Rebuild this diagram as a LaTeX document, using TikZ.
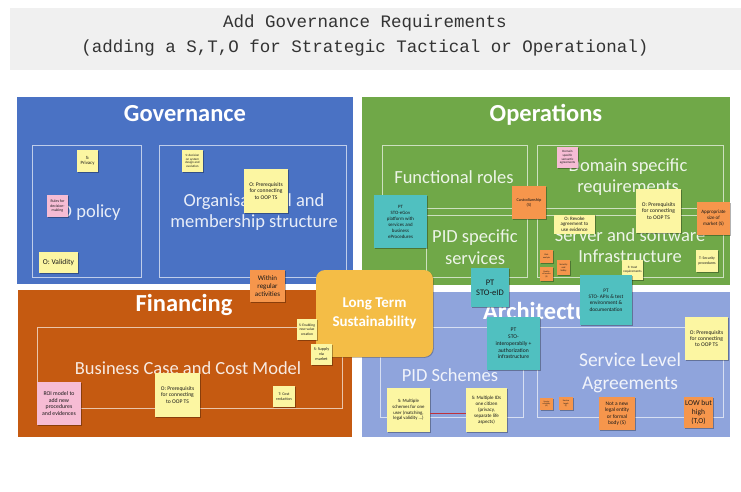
\documentclass[tikz,border=0pt]{standalone}
\usepackage{fontspec}
\setmainfont{Carlito}
\newfontfamily\monof{Liberation Mono}
\usetikzlibrary{shadows}
\definecolor{bandc}{RGB}{240,240,240}
\definecolor{govc}{RGB}{74,114,196}
\definecolor{opsc}{RGB}{112,168,72}
\definecolor{finc}{RGB}{197,90,17}
\definecolor{archc}{RGB}{143,164,220}
\definecolor{ltsc}{RGB}{244,189,70}
\definecolor{tealc}{RGB}{80,192,192}
\definecolor{yelc}{RGB}{252,246,162}
\definecolor{orgc}{RGB}{246,150,76}
\definecolor{pnkc}{RGB}{246,188,212}
\definecolor{redl}{RGB}{190,50,60}
\newcommand\fsz[2]{\fontsize{#1}{#2}\selectfont}
\begin{document}
\begin{tikzpicture}[x=1pt,y=-1pt,
  panel/.style={draw=none,inner sep=0pt,rectangle},
  inbox/.style={draw=white,draw opacity=0.65,line width=0.8pt,inner sep=0pt,rectangle},
  wh/.style 2 args={minimum width=#1,minimum height=#2},
  ptitle/.style={text=white,font=\bfseries\fsz{24.5}{28}},
  intext/.style={text=white,text opacity=0.88,align=center,font=\fsz{18.5}{21}},
  sticky/.style={inner sep=0.3pt,align=center,text=black!90,
     drop shadow={shadow xshift=0.6pt,shadow yshift=-0.6pt,opacity=0.3,fill=black}},
  sy/.style={sticky,fill=yelc},
  so/.style={sticky,fill=orgc},
  sp/.style={sticky,fill=pnkc},
  st/.style={sticky,fill=tealc},
  lts/.style={fill=ltsc,rounded corners=9pt,text=white,align=center,
     font=\bfseries\fsz{15}{18.5},
     drop shadow={shadow xshift=0.8pt,shadow yshift=-0.8pt,opacity=0.25,fill=black}}
]
\useasboundingbox (0,0) rectangle (741,492);
\fill[white] (0,0) rectangle (741,492);

% title band
\node[panel,fill=bandc,wh={731}{62}] (band) at (375.5,39) {};
\node[font=\monof\fsz{17.5}{20},text=black!80] (t1) at (365,23) {Add Governance Requirements};
\node[font=\monof\fsz{17.5}{20},text=black!80] (t2) at (365,48) {(adding a S,T,O for Strategic Tactical or Operational)};

% panels
\node[panel,fill=govc,wh={336}{187}] (gov) at (185,190.5) {};
\node[panel,fill=opsc,wh={368}{188}] (ops) at (546,191) {};
\node[panel,fill=finc,wh={334}{147}] (fin) at (185,363.5) {};
\node[panel,fill=archc,wh={368}{145}] (arch) at (546,364.5) {};

% inner boxes
\node[inbox,wh={109}{132}] (gb1) at (86.5,211) {};
\node[inbox,wh={187}{132}] (gb2) at (252.5,211) {};
\node[inbox,wh={145}{63}] (ob1) at (454.5,176.5) {};
\node[inbox,wh={101}{62}] (ob2) at (476.5,246) {};
\node[inbox,wh={186}{63}] (ob3) at (630,176.5) {};
\node[inbox,wh={186}{62}] (ob4) at (630,246) {};
\node[inbox,wh={305}{81}] (fb1) at (189.5,367.5) {};
\node[inbox,wh={143}{90}] (ab1) at (451.5,372) {};
\node[inbox,wh={186}{90}] (ab2) at (630,372) {};

% titles
\node[ptitle] (govt) at (185,114) {Governance};
\node[ptitle] (opst) at (546,115) {Operations};
\node[ptitle] (fint) at (184,305) {Financing};
\node[ptitle] (archt) at (546,311) {Architecture};

% inner texts
\node[intext,anchor=east] (pidpol) at (124,213) {PID policy};
\node[intext] (orgs) at (254,212) {Organisational and\\membership structure};
\node[intext] (funr) at (454,177) {Functional roles};
\node[intext] (doms) at (628,177) {Domain specific\\requirements};
\node[intext,font=\fsz{18.5}{22}] (pids) at (475,247) {PID specific\\services};
\node[intext] (serv) at (630,246) {Server and software\\Infrastructure};
\node[intext] (bcase) at (188,368) {Business Case and Cost Model};
\node[intext] (pidsch) at (450,375) {PID Schemes};
\node[intext,font=\fsz{19.5}{23}] (sla) at (630,373) {Service Level\\Agreements};

% long term sustainability
\node[lts,wh={117}{87}] (ltsn) at (374.5,313.5) {Long Term\\Sustainability};

% governance stickies
\node[sy,wh={21}{22},font=\fsz{4.8}{5.6}] (privacy) at (87.5,161) {S:\\Privacy};
\node[sp,wh={21}{22},font=\fsz{3.9}{4.5}] (rules) at (57.5,206) {Rules for\\decision-\\making};
\node[sy,wh={39}{21},font=\fsz{7.5}{8.5}] (validity) at (58.5,262.5) {O: Validity};
\node[sy,wh={21}{22},font=\fsz{3.2}{3.7}] (sdecis) at (192.5,161) {S: decision\\on system\\design and\\evolution};
\node[sy,wh={44}{44},font=\fsz{5.6}{6.4}] (opre1) at (266,191) {O: Prerequisits\\for connecting\\to OOP TS};
\node[so,wh={35}{32},font=\fsz{7}{8}] (within) at (267.5,286) {Within\\regular\\activities};

% operations stickies
\node[st,wh={53}{53},font=\fsz{4.9}{6}] (egov) at (400.5,221.5) {PT\\STO-eGov\\platform with\\services and\\business\\eProcedures};
\node[sp,wh={21}{21},font=\fsz{3.2}{3.7}] (domsem) at (567.5,157.5) {Domain\\specific\\semantic\\agreements};
\node[so,wh={34}{33},font=\fsz{4.3}{5.2}] (custod) at (529,202.5) {Custodianship\\(S)};
\node[sy,wh={41}{19},font=\fsz{5}{5.6}] (revoke) at (574.5,224) {O: Revoke\\agreement to\\use evidence};
\node[sy,wh={45}{44},font=\fsz{5.6}{6.4}] (opre2) at (658.5,211) {O: Prerequisits\\for connecting\\to OOP TS};
\node[so,wh={33}{33},font=\fsz{5}{6}] (approp) at (713.5,218.5) {Appropriate\\size of\\market (S)};
\node[sy,wh={22}{22},font=\fsz{3.8}{4.5}] (secproc) at (707,261) {T: Security\\procedures};
\node[sy,wh={21}{20},font=\fsz{3.3}{4}] (trust) at (632.5,270) {S: trust\\requirements};
\node[so,wh={13}{13},font=\fsz{2.2}{2.6}] (tinya) at (546.5,256.5) {Risk\\analysis};
\node[so,wh={13}{14},font=\fsz{2.1}{2.5}] (tinyb) at (546.5,274) {Quality\\of service\\(S)};
\node[so,wh={13}{15},font=\fsz{2.4}{2.9}] (secsaf) at (563.5,267.5) {Security\\and\\Safety};
\node[st,wh={38}{39},font=\fsz{8.5}{10}] (eid) at (490,287.5) {PT\\STO-eID};
\node[st,wh={52}{50},font=\fsz{5.3}{6.3}] (apis) at (606,300) {PT\\STO- APIs \& test\\environment \&\\documentation};

% architecture stickies
\node[st,wh={53}{53},font=\fsz{5.6}{6.8}] (interop) at (513.5,343.5) {PT\\STO-\\interoperabily +\\authorization\\infrastructure};
\node[sy,wh={43}{44},font=\fsz{4.8}{5.6}] (ms1) at (408.5,410) {S: Multiple\\schemes for one\\user (matching,\\legal validity ...)};
\node[sy,wh={41}{44},font=\fsz{5}{6}] (ms2) at (486.5,410) {S: Multiple IDs\\one citizen\\(privacy,\\separate life\\aspects)};
\node[sy,wh={43}{43},font=\fsz{5.6}{6.4}] (opre3) at (706.5,338.5) {O: Prerequisits\\for connecting\\to OOP TS};
\node[so,wh={13}{12},font=\fsz{2}{2.4}] (tinyc) at (546.5,404) {Service\\reliability\\(O)};
\node[so,wh={14}{13},font=\fsz{2.2}{2.6}] (tinyd) at (566,403.5) {Service\\levels\\(T)};
\node[so,wh={36}{33},font=\fsz{5.4}{6.4}] (notnew) at (617,413.5) {Not a new\\legal entity\\or formal\\body (S)};
\node[so,wh={29}{31},font=\fsz{7.5}{8.8}] (low) at (698.5,412.5) {LOW but\\high\\(T,O)};

% financing stickies
\node[sp,wh={44}{43},font=\fsz{5.8}{6.8}] (roi) at (59,403.5) {ROI model to\\add new\\procedures\\and evidences};
\node[sy,wh={45}{44},font=\fsz{5.6}{6.4}] (opre4) at (177.5,395) {O: Prerequisits\\for connecting\\to OOP TS};
\node[sy,wh={22}{21},font=\fsz{4}{4.8}] (cost) at (284,396.5) {T: Cost\\reduction};
\node[sy,wh={20}{21},font=\fsz{3.6}{4.3}] (enabl) at (307,329.5) {S: Enabling\\new value\\creation};
\node[sy,wh={21}{21},font=\fsz{4.2}{5}] (supply) at (321.5,354.5) {S: Supply\\via\\market};

% connector
\draw[redl,line width=0.6pt] ([yshift=-3pt]ms1.east) -- ([yshift=-3pt]ms2.west);
\end{tikzpicture}
\end{document}
